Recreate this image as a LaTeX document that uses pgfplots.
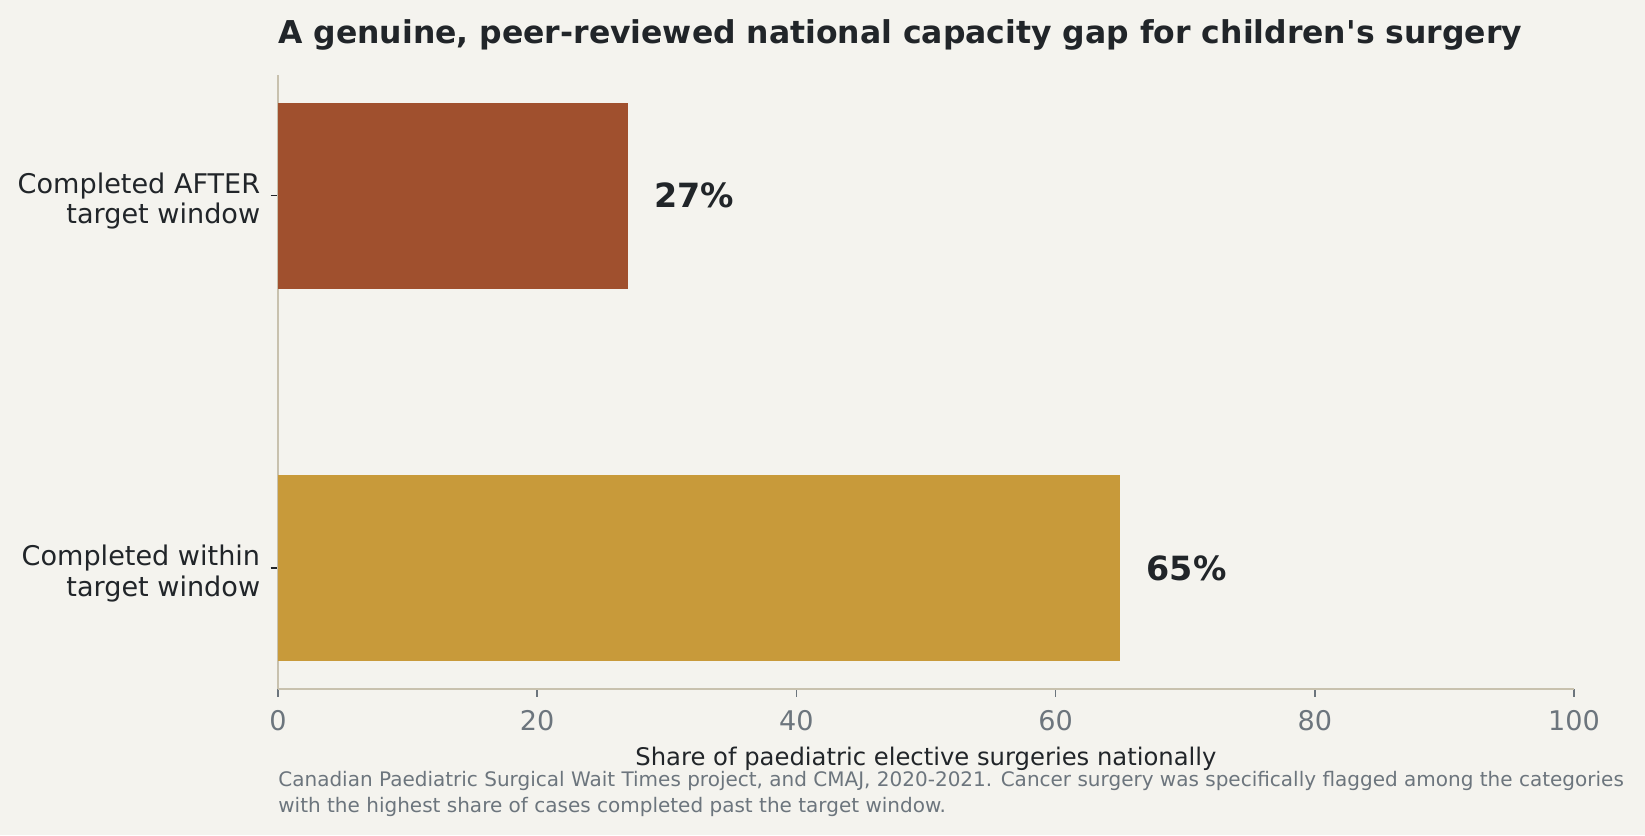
\documentclass[border=0pt]{standalone}
\usepackage{pgfplots}
\pgfplotsset{compat=1.18}
\usepackage{fontspec}
\setmainfont{DejaVu Sans}

\definecolor{bgc}{HTML}{F4F3EE}
\definecolor{spine}{HTML}{C8C1AE}
\definecolor{ink}{HTML}{212529}
\definecolor{muted}{HTML}{6C757D}
\definecolor{late}{HTML}{A0502E}
\definecolor{ontime}{HTML}{C89A3A}

\begin{document}
\begin{tikzpicture}
  % page = background, axis box south west at (0,0)
  \path[use as bounding box, fill=bgc] (-133.4pt,-70.1pt) rectangle (656.1pt,330.8pt);
  \begin{axis}[
    scale only axis,
    width=622pt, height=295pt,
    xmin=0, xmax=100,
    ymin=-0.325, ymax=1.325,
    xbar, bar width=0.5,
    axis x line*=bottom, axis y line*=left,
    axis line style={spine, line width=0.8pt},
    xtick={0,20,40,60,80,100},
    ytick={0,1},
    yticklabels={{Completed within\\target window},{Completed AFTER\\target window}},
    yticklabel style={align=right, font=\fontsize{13}{14.6}\selectfont, text=ink, xshift=-1.5pt, yshift=-2.5pt},
    xticklabel style={font=\fontsize{13}{15}\selectfont, text=muted, yshift=-3pt},
    /pgf/number format/assume math mode=true,
    x tick style={muted, line width=0.8pt},
    y tick style={ink, line width=0.8pt},
    tick align=outside, major tick length=3.5pt,
    ytick pos=left, xtick pos=bottom,
    enlargelimits=false,
    nodes near coords={\pgfmathprintnumber{\pgfplotspointmeta}\%},
    nodes near coords style={font=\bfseries\fontsize{16}{19}\selectfont, text=ink, anchor=west, inner sep=0pt, xshift=12.4pt},
  ]
    \addplot[fill=ontime, draw=none, bar shift=0pt] coordinates {(65,0)};
    \addplot[fill=late, draw=none, bar shift=0pt] coordinates {(27,1)};
  \end{axis}
  \node[anchor=base west, inner sep=0pt, text=ink, font=\bfseries\fontsize{15.1}{18}\selectfont] at (0pt,310.1pt)
    {A genuine, peer-reviewed national capacity gap for children\textquotesingle s surgery};
  \node[anchor=base, inner sep=0pt, text=ink, font=\fontsize{11.65}{14}\selectfont] at (311pt,-36.8pt)
    {Share of paediatric elective surgeries nationally};
  \node[anchor=base west, inner sep=0pt, align=left, text=muted, font=\fontsize{9.6}{12.5}\selectfont] at (0pt,-59.1pt)
    {Canadian Paediatric Surgical Wait Times project, and CMAJ, 2020-2021. Cancer surgery was specifically flagged among the categories\\with the highest share of cases completed past the target window.};
\end{tikzpicture}
\end{document}
